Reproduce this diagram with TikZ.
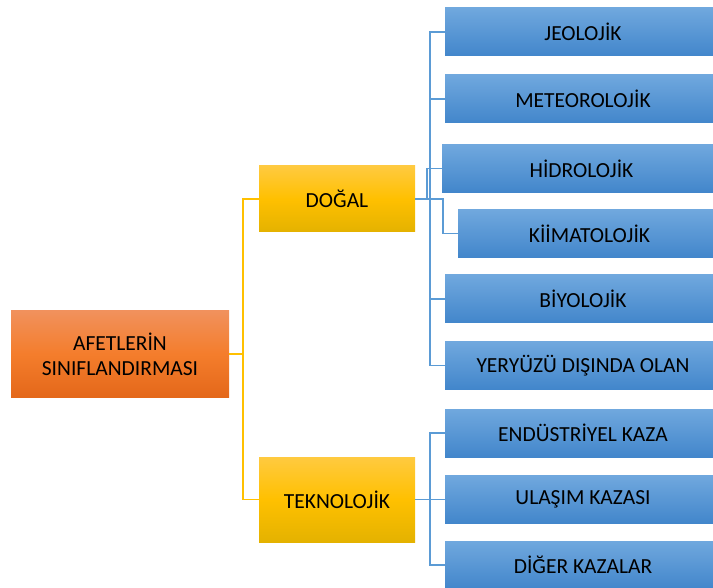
\documentclass[tikz,border=0pt]{standalone}
\usepackage{fontspec}
\setmainfont{Carlito}
\usepackage{tikz}
\usetikzlibrary{positioning,calc}
\definecolor{bluetop}{RGB}{112,168,222}
\definecolor{bluebot}{RGB}{66,134,203}
\definecolor{yeltop}{RGB}{255,202,64}
\definecolor{yelmid}{RGB}{255,192,0}
\definecolor{yelbot}{RGB}{228,178,0}
\definecolor{orgtop}{RGB}{241,145,92}
\definecolor{orgmid}{RGB}{244,125,44}
\definecolor{orgbot}{RGB}{228,104,26}
\definecolor{bluewire}{RGB}{91,155,213}
\definecolor{yelwire}{RGB}{255,192,0}
\tikzset{
    rootbox/.style={top color=orgtop, bottom color=orgbot, middle color=orgmid, align=center, minimum width=218, minimum height=86, inner sep=0pt},
    groupbox/.style={top color=yeltop, bottom color=yelbot, middle color=yelmid, align=center, minimum width=156, inner sep=0pt},
    leafbox/.style={top color=bluetop, bottom color=bluebot, align=center, minimum height=48, inner sep=0pt},
    bluelink/.style={draw=bluewire, line width=1.6pt},
    yellink/.style={draw=yelwire, line width=1.6pt}
}
\begin{document}
\begin{tikzpicture}[x=1pt, y=-1pt, font=\fontsize{21.5}{25}\selectfont]
\useasboundingbox (0,0) rectangle (713,588);
% root and groups
\node[rootbox] (root) at (120,354) {AFETLER\.{I}N\\SINIFLANDIRMASI};
\node[groupbox, minimum height=66] (dogal) at (337,199) {DO\u{G}AL};
\node[groupbox, minimum height=85] (tekno) at (337,499.5) {TEKNOLOJ\.{I}K};
% natural
\node[leafbox, minimum width=276] (jeo) at (583,32) {JEOLOJ\.{I}K};
\node[leafbox, minimum width=276] (meteo) at (583,99) {METEOROLOJ\.{I}K};
\node[leafbox, minimum width=279] (hidro) at (581.5,168.5) {H\.{I}DROLOJ\.{I}K};
\node[leafbox, minimum width=263] (klima) at (589.5,233.5) {K\.{I}\.{I}MATOLOJ\.{I}K};
\node[leafbox, minimum width=276] (bio) at (583,299) {B\.{I}YOLOJ\.{I}K};
\node[leafbox, minimum width=276] (yer) at (583,365.5) {YERY\"{U}Z\"{U} DI\c{S}INDA OLAN};
% technological
\node[leafbox, minimum width=276] (endus) at (583,433) {END\"{U}STR\.{I}YEL KAZA};
\node[leafbox, minimum width=276] (ulasim) at (583,499.5) {ULA\c{S}IM KAZASI};
\node[leafbox, minimum width=276] (diger) at (583,565) {D\.{I}\u{G}ER KAZALAR};
% links
\foreach \c in {dogal,tekno}
    \draw[yellink] (root.east) -- ++(14,0) |- (\c);
\foreach \c in {jeo,meteo,bio,yer}
    \draw[bluelink] (dogal.east) -- ++(15,0) |- (\c);
\draw[bluelink] (dogal.east) -- ++(12,0) |- (hidro);
\draw[bluelink] (dogal.east) -- ++(28,0) |- (klima);
\foreach \c in {endus,ulasim,diger}
    \draw[bluelink] (tekno.east) -- ++(15,0) |- (\c);
\end{tikzpicture}
\end{document}
